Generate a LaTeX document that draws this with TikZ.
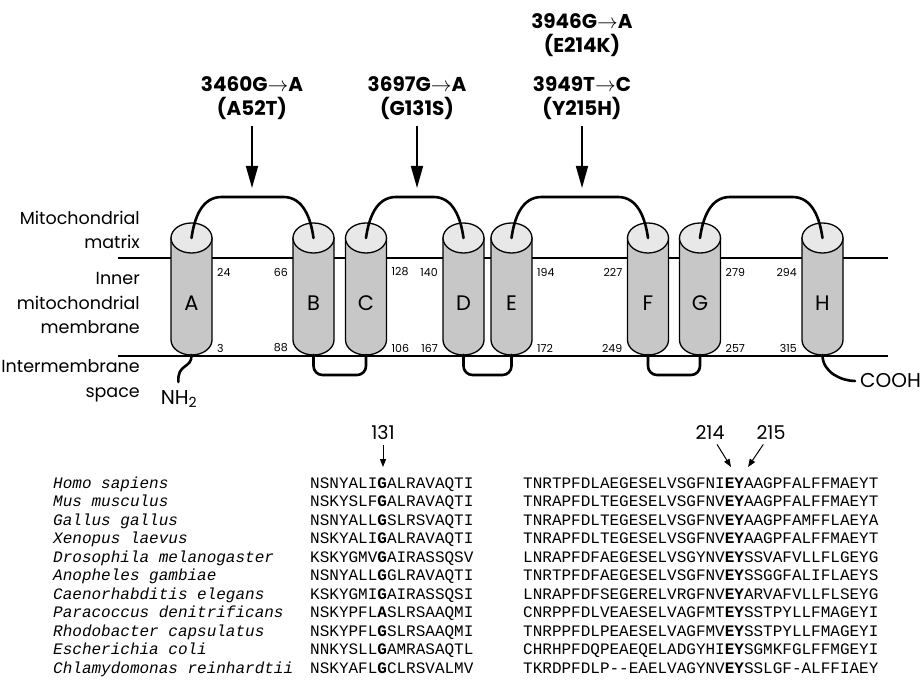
\documentclass[tikz,border=0pt]{standalone}
\usepackage{fontspec}
\setmainfont{Poppins}
\newfontfamily\seqfont{Liberation Mono}
\usetikzlibrary{arrows.meta, calc, positioning}
\tikzset{
	every node/.style={
		font=\fontsize{17}{24}\selectfont,
		inner sep=0pt
	},
	helix/.style={
		draw=black,
		line width=1.3pt,
		fill=black!22
	},
	helixcap/.style={
		draw=black,
		line width=1.3pt,
		fill=black!9
	},
	loopline/.style={
		draw=black,
		line width=2.6pt,
		line cap=round
	},
	membrane/.style={
		draw=black,
		line width=1.2pt
	},
	mutation/.style={
		font=\bfseries\fontsize{20}{24}\selectfont,
		align=center
	},
	resnum/.style={
		font=\fontsize{11}{13}\selectfont
	},
	region/.style={
		align=right,
		anchor=east,
		font=\fontsize{17.5}{24.5}\selectfont
	},
	terminus/.style={
		font=\fontsize{20}{24}\selectfont
	},
	position/.style={
		font=\fontsize{19}{24}\selectfont
	},
	species/.style={
		font=\seqfont\itshape\fontsize{16}{19}\selectfont,
		anchor=base west
	},
	sequence/.style={
		font=\seqfont\fontsize{16}{19}\selectfont,
		anchor=base west
	},
	bigarrow/.style={
		-{Triangle[length=22pt,width=12pt]},
		line width=1.6pt
	},
	smallarrow/.style={
		-{Triangle[length=8pt,width=6pt]},
		line width=1pt
	}
}

\begin{document}
\begin{tikzpicture}[x=1pt,y=1pt]
	\useasboundingbox (0,0) rectangle (924,681);
	
	% membrane
	\draw[membrane] (118,423) -- (888,423);
	\draw[membrane] (118,325) -- (888,325);
	
	\node[region] (matrix) at (140,451) {Mitochondrial\\matrix};
	\node[region] (inner) at (140,378) {Inner\\mitochondrial\\membrane};
	\node[region] (ims) at (140,300) {Intermembrane\\space};
	
	% helices
	\foreach \x/\h in {191.5/A, 313.5/B, 366/C, 463.5/D, 511.5/E, 648/F, 700/G, 822.5/H}{
		\path[helix] (\x-20.5,443) -- (\x-20.5,341) arc[start angle=180, end angle=360, x radius=20.5, y radius=15] -- (\x+20.5,443) -- cycle;
		\path[helixcap] (\x,443) ellipse[x radius=20.5, y radius=15];
		\node (\h) at (\x,378) {\fontsize{21}{21}\selectfont\h};
		\coordinate (\h-top) at (\x,443);
		\coordinate (\h-bot) at (\x,326);
	}
	
	% residue numbers
	\foreach \h/\a/\s/\nt/\nb in {A/west/1/24/3, B/east/-1/66/88, C/west/1/128/106, D/east/-1/140/167, E/west/1/194/172, F/east/-1/227/249, G/west/1/279/257, H/east/-1/294/315}{
		\node[resnum, anchor=\a] (n\nt) at ($(\h-top)+(\s*25.5,-34)$) {\nt};
		\node[resnum, anchor=\a] (n\nb) at ($(\h-top)+(\s*25.5,-110)$) {\nb};
	}
	
	% loops in the matrix
	\foreach \p/\q in {A/B, C/D, E/F, G/H}{
		\draw[loopline] (\p-top) to[out=82,in=180] ($(\p-top)+(30,41)$) -- ($(\q-top)+(-30,41)$) to[out=0,in=98] (\q-top);
	}
	% loops in the intermembrane space
	\foreach \p/\q in {B/C, D/E, F/G}{
		\draw[loopline, rounded corners=9pt] (\p-bot) -- ++(0,-20) -| (\q-bot);
	}
	
	\node[terminus, anchor=north] (nh2) at (179,291) {NH\textsubscript{2}};
	\node[terminus, anchor=west] (cooh) at (860,300) {COOH};
	\draw[loopline, shorten >=8pt] (A-bot) .. controls (192,312) and (177,318) .. (nh2.north);
	\draw[loopline, shorten >=5pt] (H-bot) to[out=-90,in=180] (cooh.west);
	
	% mutations
	\node[mutation] (mut52) at (252,583) {3460G$\rightarrow$A\\(A52T)};
	\node[mutation] (mut131) at (417,583) {3697G$\rightarrow$A\\(G131S)};
	\node[mutation] (mut214) at (582,646) {3946G$\rightarrow$A\\(E214K)};
	\node[mutation] (mut215) at (582,583) {3949T$\rightarrow$C\\(Y215H)};
	
	\coordinate (hit52) at (252,493);
	\coordinate (hit131) at (417,493);
	\coordinate (hit215) at (582,493);
	\draw[bigarrow, shorten <=6pt] (mut52) -- (hit52);
	\draw[bigarrow, shorten <=6pt] (mut131) -- (hit131);
	\draw[bigarrow, shorten <=6pt] (mut215) -- (hit215);
	
	% alignment
	\node[position] (l131) at (383,248) {131};
	\node[position] (l214) at (710,248) {214};
	\node[position] (l215) at (771,248) {215};
	\coordinate (g131) at (383,214);
	\coordinate (e214) at (731,214);
	\coordinate (y215) at (748,214);
	\draw[smallarrow, shorten <=5pt] (l131) -- (g131);
	\draw[smallarrow, shorten <=5pt] (l214) -- (e214);
	\draw[smallarrow, shorten <=5pt] (l215) -- (y215);
	
	\foreach \sp/\sa/\sb [count=\i from 0] in {
		Homo sapiens/NSNYALI\textbf{G}ALRAVAQTI/TNRTPFDLAEGESELVSGFNI\textbf{EY}AAGPFALFFMAEYT,
		Mus musculus/NSKYSLF\textbf{G}ALRAVAQTI/TNRAPFDLTEGESELVSGFNV\textbf{EY}AAGPFALFFMAEYT,
		Gallus gallus/NSNYALL\textbf{G}SLRSVAQTI/TNRAPFDLTEGESELVSGFNV\textbf{EY}AAGPFAMFFLAEYA,
		Xenopus laevus/NSKYALI\textbf{G}ALRAVAQTI/TNRAPFDLTEGESELVSGFNV\textbf{EY}AAGPFALFFMAEYT,
		Drosophila melanogaster/KSKYGMV\textbf{G}AIRASSQSV/LNRAPFDFAEGESELVSGYNV\textbf{EY}SSVAFVLLFLGEYG,
		Anopheles gambiae/NSNYALL\textbf{G}GLRAVAQTI/TNRTPFDFAEGESELVSGFNV\textbf{EY}SSGGFALIFLAEYS,
		Caenorhabditis elegans/KSKYGMI\textbf{G}AIRASSQSI/LNRAPFDFSEGERELVRGFNV\textbf{EY}ARVAFVLLFLSEYG,
		Paracoccus denitrificans/NSKYPFL\textbf{A}SLRSAAQMI/CNRPPFDLVEAESELVAGFMT\textbf{EY}SSTPYLLFMAGEYI,
		Rhodobacter capsulatus/NSKYPFL\textbf{G}SLRSAAQMI/TNRPPFDLPEAESELVAGFMV\textbf{EY}SSTPYLLFMAGEYI,
		Escherichia coli/NNKYSLL\textbf{G}AMRASAQTL/CHRHPFDQPEAEQELADGYHI\textbf{EY}SGMKFGLFFMGEYI,
		Chlamydomonas reinhardtii/NSKYAFL\textbf{G}CLRSVALMV/TKRDPFDLP-{}-EAELVAGYNV\textbf{EY}SSLGF-ALFFIAEY
	}{
		\node[species] (sp\i) at (53,193-18.5*\i) {\sp};
		\node[sequence] (sa\i) at (310,193-18.5*\i) {\sa};
		\node[sequence] (sb\i) at (523,193-18.5*\i) {\sb};
	}
\end{tikzpicture}
\end{document}
